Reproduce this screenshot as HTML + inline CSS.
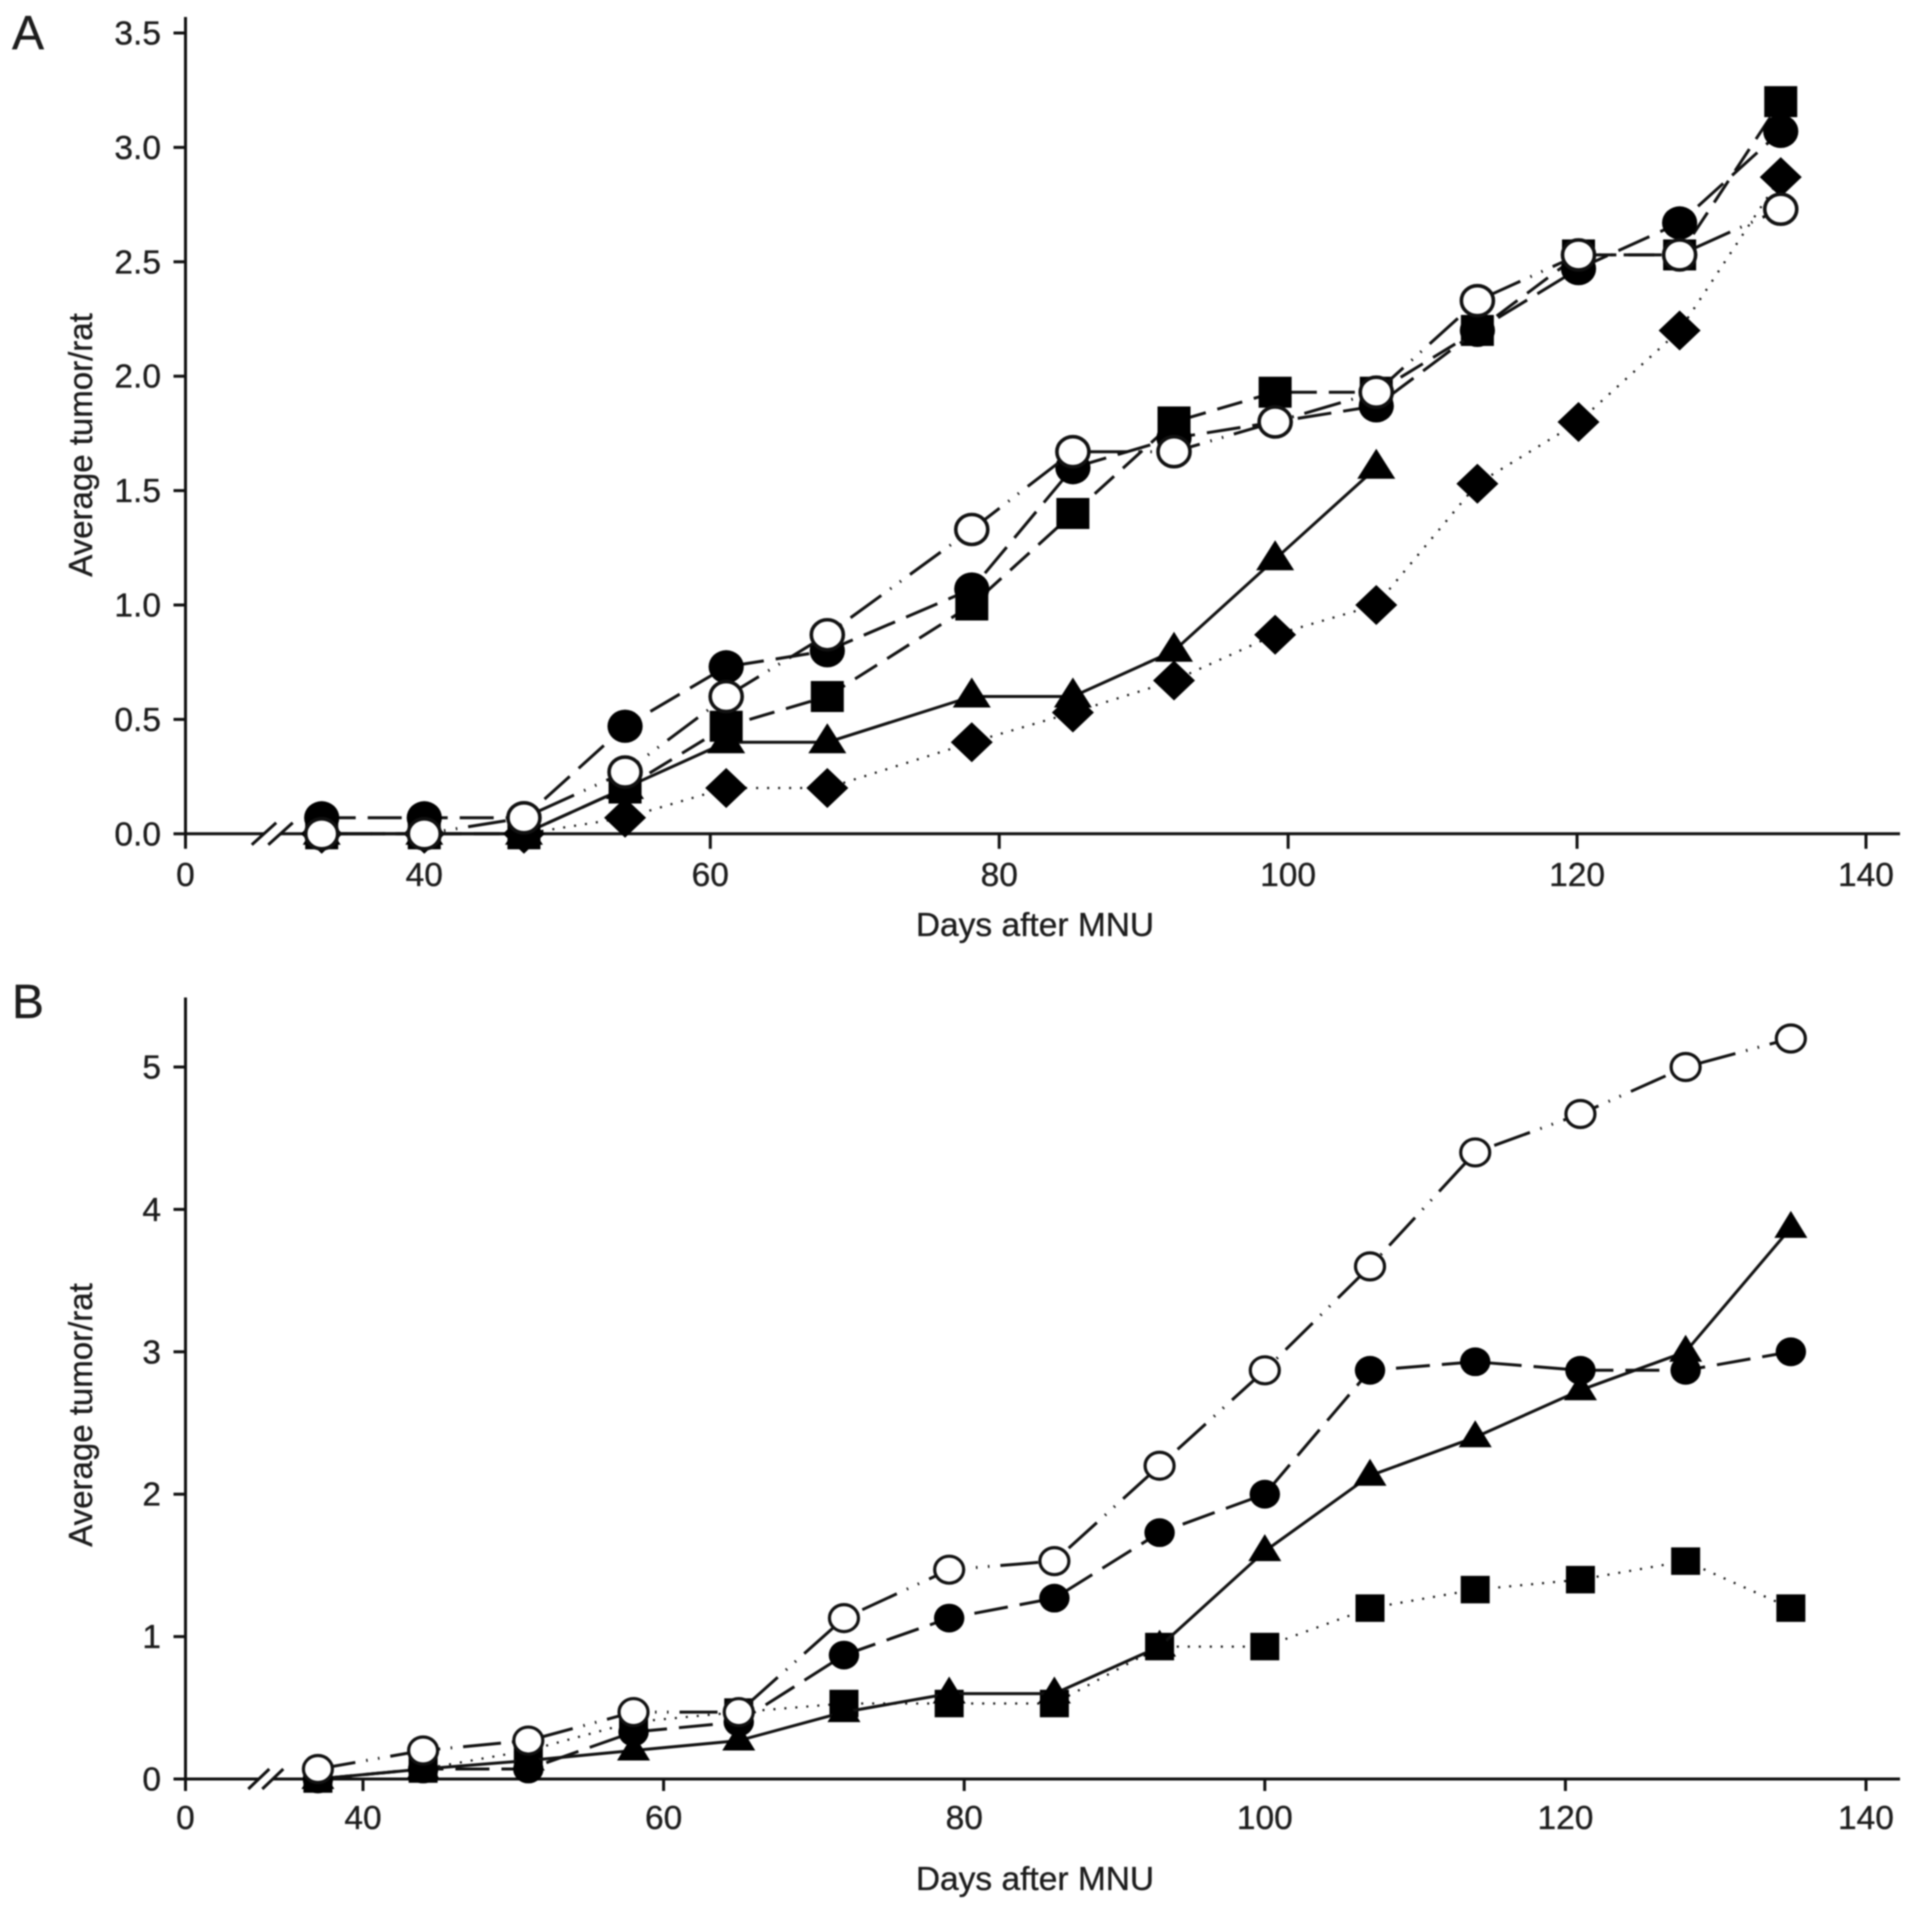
<!DOCTYPE html>
<html lang="en">
<head>
<meta charset="utf-8">
<title>Average tumor per rat after MNU</title>
<style>
html,body{margin:0;padding:0;background:#fff;}
svg{display:block;filter:blur(0.7px);}
text{font-family:"Liberation Sans",sans-serif;fill:#1c1c1c;stroke:#1c1c1c;stroke-width:0.35px;font-size:33.5px;}
</style>
</head>
<body>
<svg id="figure" xmlns="http://www.w3.org/2000/svg" width="1913" height="1910" viewBox="0 0 1913 1910">
  <rect x="0" y="0" width="1913" height="1910" fill="#fff"/>
  <text x="12" y="49" style="font-size:48px">A</text>
  <text x="12" y="1018" style="font-size:48px">B</text>
  <text text-anchor="middle" transform="translate(92,445) rotate(-90)" style="font-size:33px">Average tumor/rat</text>
  <text text-anchor="middle" transform="translate(92,1415) rotate(-90)" style="font-size:33px">Average tumor/rat</text>
  <text text-anchor="middle" x="1035" y="936">Days after MNU</text>
  <text text-anchor="middle" x="1035" y="1890">Days after MNU</text>
  <g id="panel-a"></g>
  <g id="panel-b"></g>
</svg>
<script>
const aDays = [33.1, 40.2, 47.1, 54.1, 61.1, 68.1, 78.1, 85.1, 92.1, 99.1, 106.1, 113.1, 120.1, 127.1, 134.1];
const aTriangleDays = [33.1, 40.2, 47.1, 54.1, 61.1, 68.1, 78.1, 85.1, 92.1, 99.1, 106.1];
const aTriangle = [0, 0, 0, 0.2, 0.4, 0.4, 0.6, 0.6, 0.8, 1.2, 1.6];
const aDiamond = [0, 0, 0, 0.07, 0.2, 0.2, 0.4, 0.53, 0.67, 0.87, 1.0, 1.53, 1.8, 2.2, 2.87];
const aSquare = [0, 0, 0, 0.2, 0.47, 0.6, 1.0, 1.4, 1.8, 1.93, 1.93, 2.2, 2.53, 2.53, 3.2];
const aFilledCircle = [0.07, 0.07, 0.07, 0.47, 0.73, 0.8, 1.07, 1.6, 1.73, 1.8, 1.87, 2.2, 2.47, 2.67, 3.07];
const aOpenCircle = [0, 0, 0.07, 0.27, 0.6, 0.87, 1.33, 1.67, 1.67, 1.8, 1.93, 2.33, 2.53, 2.53, 2.73];
const aXTicks = [40.2, 60, 80, 100, 120, 140];
const aXTickLabels = ["40", "60", "80", "100", "120", "140"];
const aYTicks = [0, 0.5, 1, 1.5, 2, 2.5, 3, 3.5];
const aYTickLabels = ["0.0", "0.5", "1.0", "1.5", "2.0", "2.5", "3.0", "3.5"];

const bDays = [37, 44, 51, 58, 65, 72, 79, 86, 93, 100, 107, 114, 121, 128, 135];
const bSquare = [0, 0.07, 0.2, 0.4, 0.47, 0.53, 0.53, 0.53, 0.93, 0.93, 1.2, 1.33, 1.4, 1.53, 1.2];
const bTriangle = [0, 0.07, 0.13, 0.2, 0.27, 0.47, 0.6, 0.6, 0.93, 1.6, 2.13, 2.4, 2.73, 3.0, 3.87];
const bFilledCircle = [0, 0.07, 0.07, 0.33, 0.4, 0.87, 1.13, 1.27, 1.73, 2.0, 2.87, 2.93, 2.87, 2.87, 3.0];
const bOpenCircle = [0.07, 0.2, 0.27, 0.47, 0.47, 1.13, 1.47, 1.53, 2.2, 2.87, 3.6, 4.4, 4.67, 5.0, 5.2];
const bXTicks = [40, 60, 80, 100, 120, 140];
const bXTickLabels = ["40", "60", "80", "100", "120", "140"];
const bYTicks = [0, 1, 2, 3, 4, 5];
const bYTickLabels = ["0", "1", "2", "3", "4", "5"];

const NS = "http://www.w3.org/2000/svg";
const INK = "#111";
const SOLID = "none";
const DOTTED = "2 9";
const SHORT_DASH = "26 12";
const LONG_DASH = "34 12";
const DASH_DOT_DOT = "38 11 1.5 10.5 1.5 11";

function make(parent, tag, attrs) {
  const el = document.createElementNS(NS, tag);
  for (const k in attrs) el.setAttribute(k, attrs[k]);
  parent.appendChild(el);
  return el;
}

function drawAxes(root, p, xTicks, xLabels, yTicks, yLabels) {
  const axisY = p.y(0);
  const yAxis = make(root, "line", {x1: p.originX, x2: p.originX, y1: p.axisTop, y2: axisY + p.tickDown, stroke: INK, "stroke-width": 3});
  
  
  const xAxisLeft = make(root, "line", {x1: p.originX, x2: p.breakLeft, y1: axisY, y2: axisY, stroke: INK, "stroke-width": 3});
  
  
  const xAxisRight = make(root, "line", {x1: p.breakRight, x2: 1900, y1: axisY, y2: axisY, stroke: INK, "stroke-width": 3});
  
  
  [p.breakLeft, p.breakRight].forEach(function (cx) {
    const slash = make(root, "line", {x1: cx - p.slashW, x2: cx + p.slashW, y1: axisY + p.slashH, y2: axisY - p.slashH, stroke: INK, "stroke-width": 3});
    
    
  });
  const zero = make(root, "text", {x: p.originX, y: p.xLabelY, "text-anchor": "middle"});
  zero.textContent = "0";
  
  
  xTicks.forEach(function (t, i) {
    const tick = make(root, "line", {x1: p.x(t), x2: p.x(t), y1: axisY, y2: axisY + p.tickDown, stroke: INK, "stroke-width": 3});
    
    
    const label = make(root, "text", {x: p.x(t), y: p.xLabelY, "text-anchor": "middle"});
    label.textContent = xLabels[i];
    
    
  });
  yTicks.forEach(function (t, i) {
    const tick = make(root, "line", {x1: p.originX - 12, x2: p.originX, y1: p.y(t), y2: p.y(t), stroke: INK, "stroke-width": 3});
    
    
    const label = make(root, "text", {x: 161, y: p.y(t) + 11.5, "text-anchor": "end"});
    label.textContent = yLabels[i];
    
    
  });
}

function drawMarker(group, shape, cx, cy, s) {
  let el;
  if (shape === "square") {
    el = make(group, "rect", {x: cx - s.squareW / 2, y: cy - s.squareH / 2, width: s.squareW, height: s.squareH, fill: "#000"});
  } else if (shape === "circle") {
    el = make(group, "ellipse", {cx: cx, cy: cy, rx: s.circleRx, ry: s.circleRy, fill: "#000"});
  } else if (shape === "open") {
    el = make(group, "ellipse", {cx: cx, cy: cy, rx: s.openRx, ry: s.openRy, fill: "#fff", stroke: "#111", "stroke-width": s.openStroke});
  } else if (shape === "diamond") {
    const dx = s.diamondW / 2, dy = s.diamondH / 2;
    el = make(group, "polygon", {points: [cx, cy - dy, cx + dx, cy, cx, cy + dy, cx - dx, cy].join(" "), fill: "#000"});
  } else {
    const b = s.triBase / 2;
    el = make(group, "polygon", {points: [cx, cy - s.triUp, cx + b, cy + s.triDown, cx - b, cy + s.triDown].join(" "), fill: "#000"});
  }
  
  
}

function drawSeries(root, p, seriesName, days, values, shape, dash) {
  const group = make(root, "g", {});
  
  
  const pts = days.map(function (d, i) { return p.x(d).toFixed(1) + "," + p.y(values[i]).toFixed(1); }).join(" ");
  const path = make(group, "polyline", {points: pts, fill: "none", stroke: INK, "stroke-width": dash === DOTTED ? 2.2 : 3, "stroke-linejoin": "round"});
  if (dash !== SOLID) path.setAttribute("stroke-dasharray", dash);
  
  
  days.forEach(function (d, i) { drawMarker(group, shape, p.x(d), p.y(values[i]), p.sizes); });
}

const panelA = {
  x: function (d) { return 710.3 + (d - 60) * 14.446; },
  y: function (v) { return 833.8 - v * 228.8; },
  originX: 185.5, axisTop: 17, tickDown: 15, xLabelY: 886,
  breakLeft: 264, breakRight: 280.5, slashW: 12.2, slashH: 11,
  sizes: {squareW: 33, squareH: 31, circleRx: 17.6, circleRy: 16.6, openRx: 16, openRy: 15, openStroke: 3.6, diamondW: 42, diamondH: 40, triBase: 38, triUp: 19, triDown: 11}
};
const panelB = {
  x: function (d) { return 1866 + (d - 140) * 15.03; },
  y: function (v) { return 1779 - v * 142.4; },
  originX: 185.5, axisTop: 997.5, tickDown: 12, xLabelY: 1829,
  breakLeft: 258.8, breakRight: 272.8, slashW: 10.5, slashH: 10,
  sizes: {squareW: 29, squareH: 27.5, circleRx: 15.2, circleRy: 14.4, openRx: 14.5, openRy: 13.5, openStroke: 3.2, diamondW: 36, diamondH: 34, triBase: 33, triUp: 17, triDown: 10}
};

const rootA = document.getElementById("panel-a");
const rootB = document.getElementById("panel-b");

drawAxes(rootA, panelA, aXTicks, aXTickLabels, aYTicks, aYTickLabels);
drawSeries(rootA, panelA, "series-a-triangle", aTriangleDays, aTriangle, "triangle", SOLID);
drawSeries(rootA, panelA, "series-a-diamond", aDays, aDiamond, "diamond", DOTTED);
drawSeries(rootA, panelA, "series-a-square", aDays, aSquare, "square", SHORT_DASH);
drawSeries(rootA, panelA, "series-a-filled-circle", aDays, aFilledCircle, "circle", LONG_DASH);
drawSeries(rootA, panelA, "series-a-open-circle", aDays, aOpenCircle, "open", DASH_DOT_DOT);

drawAxes(rootB, panelB, bXTicks, bXTickLabels, bYTicks, bYTickLabels);
drawSeries(rootB, panelB, "series-b-square", bDays, bSquare, "square", DOTTED);
drawSeries(rootB, panelB, "series-b-triangle", bDays, bTriangle, "triangle", SOLID);
drawSeries(rootB, panelB, "series-b-filled-circle", bDays, bFilledCircle, "circle", LONG_DASH);
drawSeries(rootB, panelB, "series-b-open-circle", bDays, bOpenCircle, "open", DASH_DOT_DOT);
</script>
</body>
</html>
